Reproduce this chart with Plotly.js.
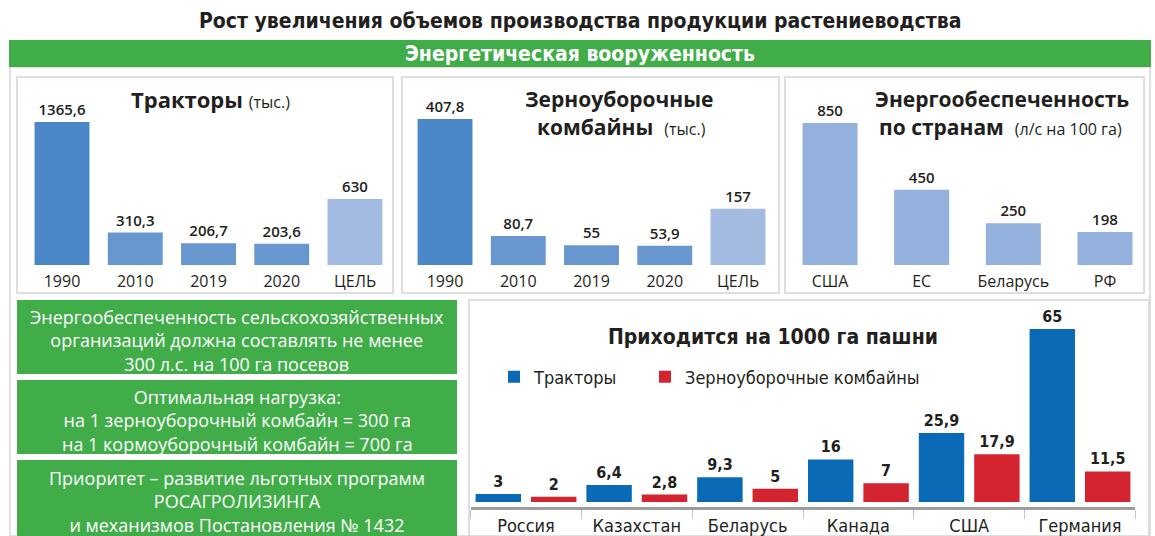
<!DOCTYPE html>
<html>
<head>
<meta charset="utf-8">
<script src="https://cdn.plot.ly/plotly-3.0.1.min.js"></script>
<style>
html,body{margin:0;padding:0;background:#fff;}
#chart{width:1155px;height:536px;}
</style>
</head>
<body>
<div id="chart"></div>
<script>
// ---- Data ----
const yearLabels = ['1990', '2010', '2019', '2020', 'ЦЕЛЬ'];
const tractorValues = [1365.6, 310.3, 206.7, 203.6, 630];
const combineValues = [407.8, 80.7, 55, 53.9, 157];
const energyCountries = ['США', 'ЕС', 'Беларусь', 'РФ'];
const energyValues = [850, 450, 250, 198];
const countries = ['Россия', 'Казахстан', 'Беларусь', 'Канада', 'США', 'Германия'];
const tractorsPer1000 = [3, 6.4, 9.3, 16, 25.9, 65];
const combinesPer1000 = [2, 2.8, 5, 7, 17.9, 11.5];

const W = 1155, H = 536;
const px = x => x / W;
const py = y => 1 - y / H;
const fmt = v => String(v).replace('.', ',');

const COND = '"Liberation Sans Narrow", "DejaVu Sans Condensed", "Roboto", sans-serif';
const SANS = '"Open Sans", "Noto Sans", sans-serif';
const DARK = '#231f20';
const GREEN = '#41ad49';

const yearColors = ['#4a87c6', '#6897cf', '#6897cf', '#6897cf', '#a3bbe0'];

const valueFont = {family: SANS, size: 15, color: DARK, weight: 600};
const bottomValueFont = {family: COND, size: 16, color: DARK, weight: 700};

const traces = [
  {type: 'bar', x: yearLabels, y: tractorValues, xaxis: 'x', yaxis: 'y',
   marker: {color: yearColors}, width: 0.75, text: tractorValues.map(fmt),
   textposition: 'outside', textfont: valueFont, constraintext: 'none', cliponaxis: false,
   showlegend: false, hoverinfo: 'x+y'},
  {type: 'bar', x: yearLabels, y: combineValues, xaxis: 'x2', yaxis: 'y2',
   marker: {color: yearColors}, width: 0.75, text: combineValues.map(fmt),
   textposition: 'outside', textfont: valueFont, constraintext: 'none', cliponaxis: false,
   showlegend: false, hoverinfo: 'x+y'},
  {type: 'bar', x: energyCountries, y: energyValues, xaxis: 'x3', yaxis: 'y3',
   marker: {color: '#94b0dd'}, width: 0.6, text: energyValues.map(fmt),
   textposition: 'outside', textfont: valueFont, constraintext: 'none', cliponaxis: false,
   showlegend: false, hoverinfo: 'x+y'},
  {type: 'bar', name: 'Тракторы', x: countries, y: tractorsPer1000, xaxis: 'x4', yaxis: 'y4',
   marker: {color: '#0a6ab6'}, width: 0.41, offset: -0.455, text: tractorsPer1000.map(fmt),
   textposition: 'outside', textfont: bottomValueFont,
   constraintext: 'none', cliponaxis: false, legend: 'legend'},
  {type: 'bar', name: 'Зерноуборочные комбайны', x: countries, y: combinesPer1000, xaxis: 'x4', yaxis: 'y4',
   marker: {color: '#d3242f'}, width: 0.41, offset: 0.045, text: combinesPer1000.map(fmt),
   textposition: 'outside', textfont: bottomValueFont,
   constraintext: 'none', cliponaxis: false, legend: 'legend2'}
];

const catAxis = (d0, d1, anchor, font) => ({
  domain: [px(d0), px(d1)], anchor: anchor, type: 'category', showgrid: false, zeroline: false,
  showline: false, ticks: '', tickfont: font, fixedrange: true
});
const valAxis = (yb, yt, range, anchor) => ({
  domain: [py(yb), py(yt)], anchor: anchor, range: range, visible: false, showgrid: false,
  zeroline: false, fixedrange: true
});

const topTickFont = {family: SANS, size: 16, color: DARK};
const legendBase = {orientation: 'h', xanchor: 'left', y: py(377), yanchor: 'middle',
  font: {family: COND, size: 18, color: DARK}, bgcolor: 'rgba(0,0,0,0)',
  itemclick: false, itemdoubleclick: false};

const layout = {
  width: W, height: H,
  margin: {l: 0, r: 0, t: 0, b: 0, pad: 0},
  paper_bgcolor: '#ffffff', plot_bgcolor: 'rgba(0,0,0,0)',
  barmode: 'overlay',
  showlegend: true,
  legend: Object.assign({x: px(494)}, legendBase),
  legend2: Object.assign({x: px(645)}, legendBase),
  xaxis: Object.assign(catAxis(25.4, 391.6, 'y', topTickFont), {ticklabelstandoff: 5}),
  yaxis: valAxis(265, 107.9, [0, 1500], 'x'),
  xaxis2: Object.assign(catAxis(408.4, 774.6, 'y2', topTickFont), {ticklabelstandoff: 5}),
  yaxis2: valAxis(265, 103.9, [0, 450], 'x2'),
  xaxis3: Object.assign(catAxis(784.2, 1150.8, 'y3', topTickFont), {ticklabelstandoff: 5}),
  yaxis3: valAxis(265, 114.6, [0, 900], 'x3'),
  xaxis4: Object.assign(catAxis(470.6, 1135.4, 'y4', {family: COND, size: 18, color: DARK}), {
    showline: true, linewidth: 3, linecolor: '#9d9d9d', ticks: 'outside', tickson: 'boundaries',
    ticklen: 9, tickwidth: 1, tickcolor: '#c4c4c4'
  }),
  yaxis4: valAxis(507, 315.7, [-1.88, 70], 'x4'),
  shapes: [
    // outer frame
    {type: 'rect', xref: 'paper', yref: 'paper', x0: px(10), x1: px(1150), y0: py(536), y1: py(67),
     line: {color: '#d8d8d8', width: 1.5}, layer: 'below'},
    // banner
    {type: 'rect', xref: 'paper', yref: 'paper', x0: px(9), x1: px(1151), y0: py(67), y1: py(40),
     fillcolor: GREEN, line: {width: 0}, layer: 'below'},
    // top panels
    {type: 'rect', xref: 'paper', yref: 'paper', x0: px(17), x1: px(393), y0: py(293), y1: py(77),
     line: {color: '#d4d4d4', width: 1.5}, layer: 'below'},
    {type: 'rect', xref: 'paper', yref: 'paper', x0: px(402), x1: px(779), y0: py(293), y1: py(77),
     line: {color: '#d4d4d4', width: 1.5}, layer: 'below'},
    {type: 'rect', xref: 'paper', yref: 'paper', x0: px(785), x1: px(1144), y0: py(293), y1: py(77),
     line: {color: '#d4d4d4', width: 1.5}, layer: 'below'},
    // bottom-right panel
    {type: 'rect', xref: 'paper', yref: 'paper', x0: px(469), x1: px(1149), y0: py(537), y1: py(300),
     line: {color: '#d4d4d4', width: 1.5}, layer: 'below'},
    // green info boxes
    {type: 'rect', xref: 'paper', yref: 'paper', x0: px(17), x1: px(457), y0: py(374), y1: py(300),
     fillcolor: GREEN, line: {width: 0}, layer: 'below'},
    {type: 'rect', xref: 'paper', yref: 'paper', x0: px(17), x1: px(457), y0: py(454), y1: py(380),
     fillcolor: GREEN, line: {width: 0}, layer: 'below'},
    {type: 'rect', xref: 'paper', yref: 'paper', x0: px(17), x1: px(457), y0: py(540), y1: py(460),
     fillcolor: GREEN, line: {width: 0}, layer: 'below'}
  ],
  annotations: [
    {xref: 'paper', yref: 'paper', x: px(580), y: py(21), xanchor: 'center', yanchor: 'middle', showarrow: false,
     text: '<b>Рост увеличения объемов производства продукции растениеводства</b>',
     font: {family: COND, size: 21, color: DARK}},
    {xref: 'paper', yref: 'paper', x: px(580), y: py(54), xanchor: 'center', yanchor: 'middle', showarrow: false,
     text: '<b>Энергетическая вооруженность</b>',
     font: {family: COND, size: 21, color: '#ffffff'}},
    // panel 1 title
    {xref: 'paper', yref: 'paper', x: px(129), y: py(99), xanchor: 'left', yanchor: 'middle', showarrow: false,
     text: '<b>Тракторы</b> <span style="font-size:16px">(тыс.)</span>',
     font: {family: SANS, size: 22, color: DARK}},
    // panel 2 title
    {xref: 'paper', yref: 'paper', x: px(619), y: py(99), xanchor: 'center', yanchor: 'middle', showarrow: false,
     text: '<b>Зерноуборочные</b>', font: {family: SANS, size: 21, color: DARK}},
    {xref: 'paper', yref: 'paper', x: px(535), y: py(127), xanchor: 'left', yanchor: 'middle', showarrow: false,
     text: '<b>комбайны</b>  <span style="font-size:16px">(тыс.)</span>',
     font: {family: SANS, size: 21, color: DARK}},
    // panel 3 title
    {xref: 'paper', yref: 'paper', x: px(1002), y: py(99), xanchor: 'center', yanchor: 'middle', showarrow: false,
     text: '<b>Энергообеспеченность</b>', font: {family: SANS, size: 21, color: DARK}},
    {xref: 'paper', yref: 'paper', x: px(877), y: py(127), xanchor: 'left', yanchor: 'middle', showarrow: false,
     text: '<b>по странам</b>  <span style="font-size:16px">(л/с на 100 га)</span>',
     font: {family: SANS, size: 21, color: DARK}},
    // bottom chart title
    {xref: 'paper', yref: 'paper', x: px(773), y: py(337), xanchor: 'center', yanchor: 'middle', showarrow: false,
     text: '<b>Приходится на 1000 га пашни</b>', font: {family: COND, size: 21, color: DARK}},
    // green boxes text
    {xref: 'paper', yref: 'paper', x: px(237), y: py(340.5), xanchor: 'center', yanchor: 'middle', showarrow: false,
     text: 'Энергообеспеченность сельскохозяйственных<br>организаций должна составлять не менее<br>300 л.с. на 100 га посевов',
     font: {family: SANS, size: 18, color: '#ffffff'}},
    {xref: 'paper', yref: 'paper', x: px(237), y: py(420.5), xanchor: 'center', yanchor: 'middle', showarrow: false,
     text: 'Оптимальная нагрузка:<br>на 1 зерноуборочный комбайн = 300 га<br>на 1 кормоуборочный комбайн = 700 га',
     font: {family: SANS, size: 18, color: '#ffffff'}},
    {xref: 'paper', yref: 'paper', x: px(237), y: py(501), xanchor: 'center', yanchor: 'middle', showarrow: false,
     text: 'Приоритет – развитие льготных программ<br>РОСАГРОЛИЗИНГА<br>и механизмов Постановления № 1432',
     font: {family: SANS, size: 18, color: '#ffffff'}}
  ]
};

Plotly.newPlot('chart', traces, layout, {displayModeBar: false, staticPlot: true});
</script>
</body>
</html>
